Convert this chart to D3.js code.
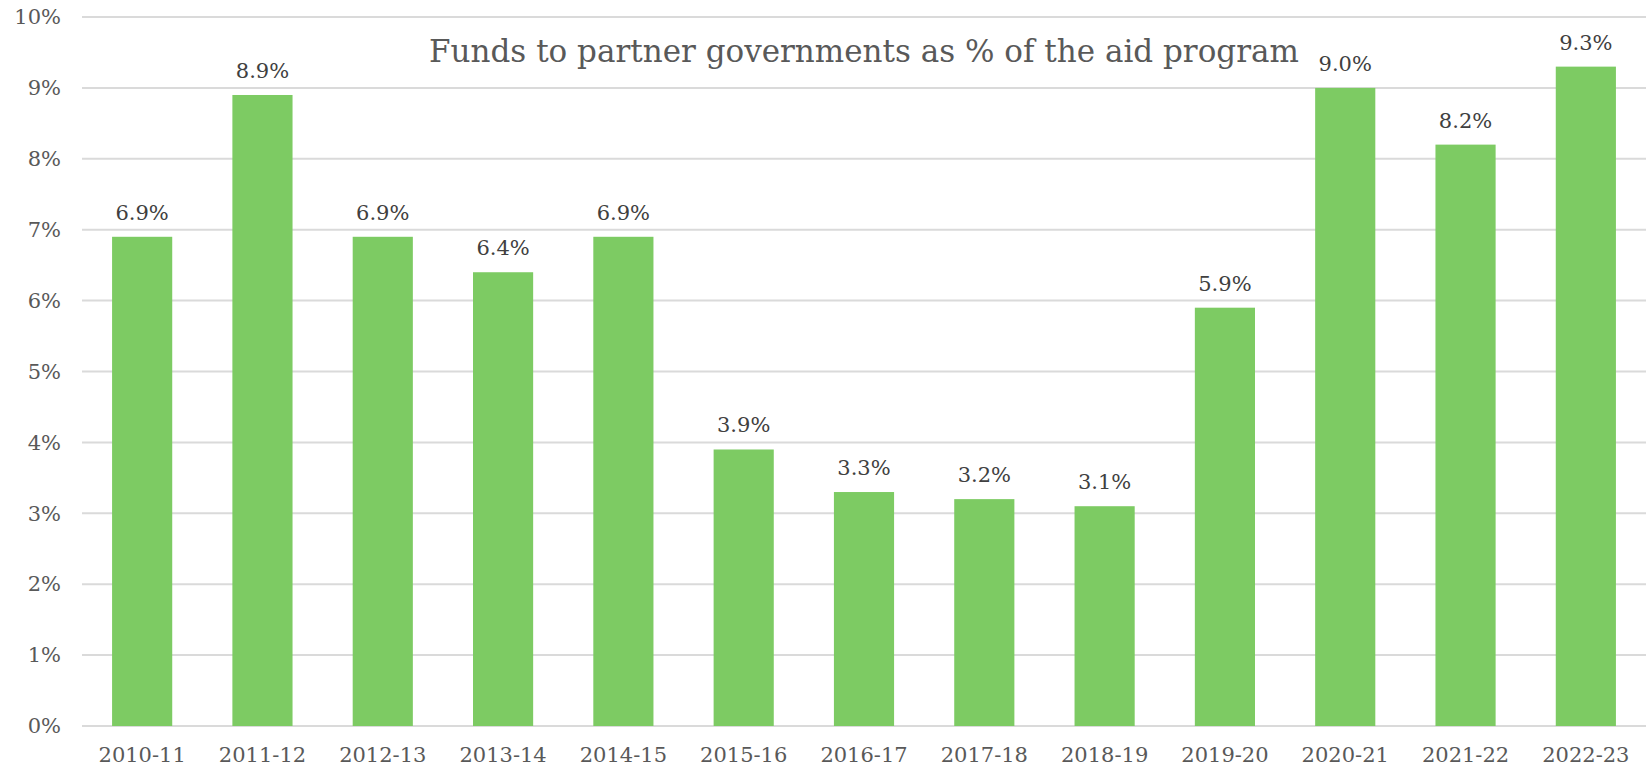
<!DOCTYPE html>
<html>
<head>
<meta charset="utf-8">
<script src="https://cdn.jsdelivr.net/npm/d3@7"></script>
<style>
	body { margin: 0; background: #fff; }
	svg text { font-family: "DejaVu Serif", "Liberation Serif", serif; }
</style>
</head>
<body>
<svg id="chart" width="1648" height="768"></svg>
<script>
// data
var years = ['2010-11','2011-12','2012-13','2013-14','2014-15','2015-16','2016-17',
             '2017-18','2018-19','2019-20','2020-21','2021-22','2022-23'];
var shares = [6.9, 8.9, 6.9, 6.4, 6.9, 3.9, 3.3, 3.2, 3.1, 5.9, 9.0, 8.2, 9.3];
var yTicks = [0,1,2,3,4,5,6,7,8,9,10];
var title = 'Funds to partner governments as % of the aid program';

var svg = d3.select('#chart');
// plot area (note: "top" is a reserved global in browsers)
var plotLeft = 82, plotRight = 1646, plotTop = 17, plotBottom = 726;

var x = d3.scaleBand()
		.domain(years)
		.range([plotLeft, plotRight])
		.paddingInner(0.5)
		.paddingOuter(0.25);
var y = d3.scaleLinear()
		.domain([0, 10])
		.range([plotBottom, plotTop]);

// gridlines
svg.append('g')
	.selectAll('line')
	.data(yTicks)
	.enter().append('line')
		.attr('x1', plotLeft)
		.attr('x2', plotRight)
		.attr('y1', function(d){ return y(d); })
		.attr('y2', function(d){ return y(d); })
		.attr('stroke', '#dadada')
		.attr('stroke-width', 2);

// y axis labels
var yAxis = svg.append('g')
		.attr('transform', 'translate(' + (plotLeft - 21) + ',0)')
		.call(d3.axisLeft(y).tickValues(yTicks).tickSize(0).tickPadding(0)
				.tickFormat(function(d){ return d + '%'; }));
yAxis.select('.domain').remove();
yAxis.selectAll('text')
	.attr('fill', '#595959')
	.style('font-size', '21px')
	.style('font-family', '"DejaVu Serif", serif');

// x axis labels
var xAxis = svg.append('g')
		.attr('transform', 'translate(0,' + plotBottom + ')')
		.call(d3.axisBottom(x).tickSize(0).tickPadding(21));
xAxis.select('.domain').remove();
xAxis.selectAll('text')
	.attr('fill', '#595959')
	.style('font-size', '21px')
	.style('font-family', '"DejaVu Serif", serif');

// bars
svg.append('g')
	.selectAll('rect')
	.data(shares)
	.enter().append('rect')
		.attr('x', function(d, i){ return x(years[i]); })
		.attr('width', x.bandwidth())
		.attr('y', function(d){ return y(d); })
		.attr('height', function(d){ return y(0) - y(d); })
		.attr('fill', '#7dcb63');

// value labels
svg.append('g')
	.selectAll('text')
	.data(shares)
	.enter().append('text')
		.attr('x', function(d, i){ return x(years[i]) + x.bandwidth() / 2; })
		.attr('y', function(d){ return y(d) - 17; })
		.attr('text-anchor', 'middle')
		.attr('fill', '#404040')
		.style('font-size', '21px')
		.text(function(d){ return d.toFixed(1) + '%'; });

// title
svg.append('text')
	.attr('x', (plotLeft + plotRight) / 2)
	.attr('y', 62)
	.attr('text-anchor', 'middle')
	.attr('fill', '#595959')
	.style('font-size', '31px')
	.text(title);
</script>
</body>
</html>
